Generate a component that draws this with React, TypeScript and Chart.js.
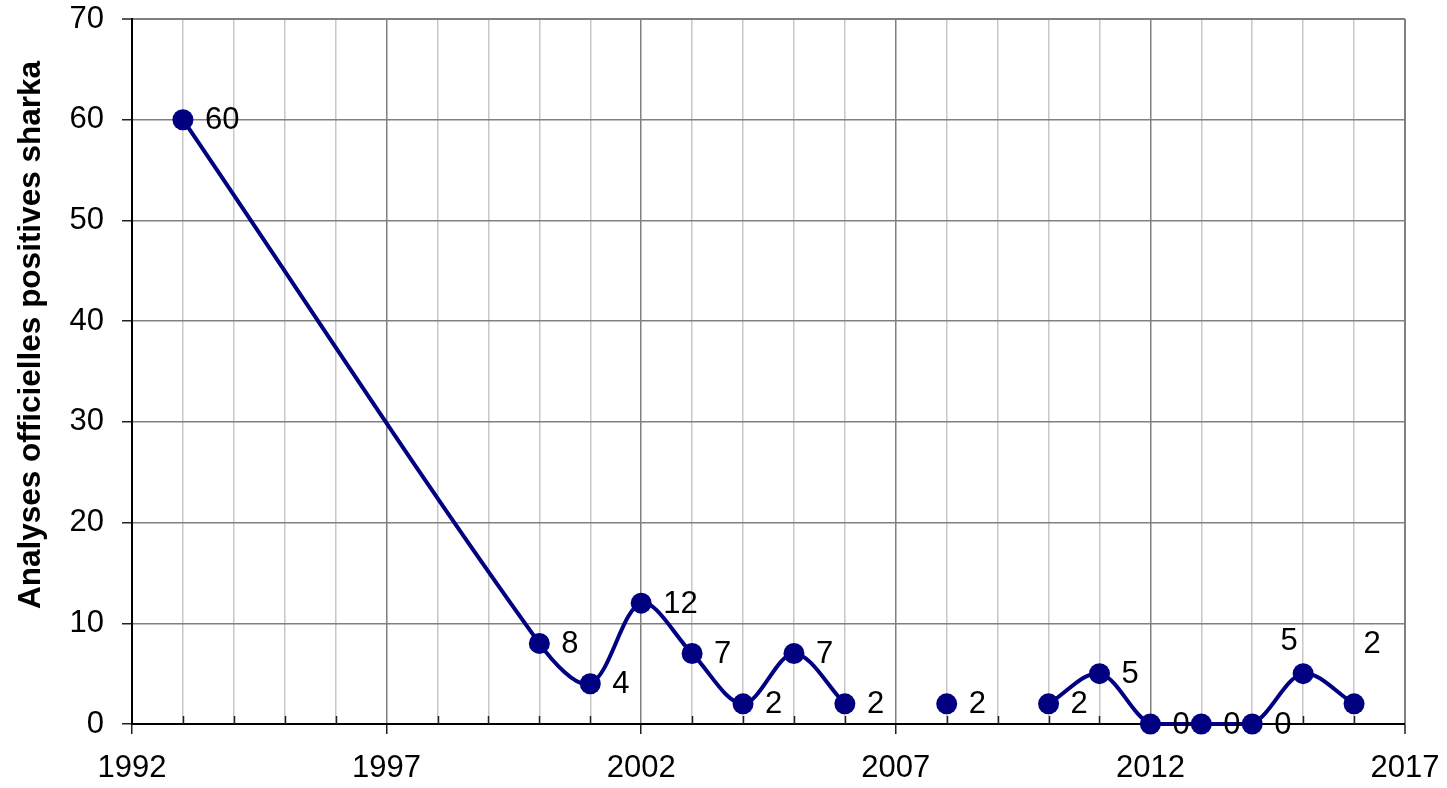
import React, { useEffect, useRef } from "react";
import { Chart, registerables } from "chart.js";

Chart.register(...registerables);

const years: number[] = [1993, 2000, 2001, 2002, 2003, 2004, 2005, 2006, 2007, 2008, 2009, 2010, 2011, 2012, 2013, 2014, 2015, 2016];
const positives: (number | null)[] = [60, 8, 4, 12, 7, 2, 7, 2, null, 2, null, 2, 5, 0, 0, 0, 5, 2];
const yTitle = "Analyses officielles positives sharka";
const xMin = 1992;
const xMax = 2017;
const yMin = 0;
const yMax = 70;

const NAVY = "#000080";
const FONT = '"Liberation Sans", Arial, sans-serif';
const FS = 31;

const isMajor = (v: number) => (v - xMin) % 5 === 0;

const labelPlugin = {
  id: "pointLabels",
  afterDatasetsDraw(chart: any) {
    const ctx = chart.ctx;
    const meta = chart.getDatasetMeta(0);
    ctx.save();
    ctx.font = `${FS}px ${FONT}`;
    ctx.fillStyle = "#000";
    meta.data.forEach((pt: any, i: number) => {
      const v = positives[i];
      if (v === null || v === undefined) return;
      const yr = years[i];
      let x = pt.x + 22;
      let y = pt.y + 1;
      let align: CanvasTextAlign = "left";
      if (yr === 2015) {
        x = pt.x - 14;
        y = pt.y - 32;
        align = "center";
      } else if (yr === 2016) {
        x = pt.x + 18;
        y = pt.y - 59;
        align = "center";
      }
      ctx.textAlign = align;
      ctx.textBaseline = "middle";
      ctx.fillText(String(v), x, y);
    });
    ctx.restore();
  },
};

const decorPlugin = {
  id: "decor",
  beforeDatasetsDraw(chart: any) {
    const ctx = chart.ctx;
    const xs = chart.scales.x;
    const area = chart.chartArea;
    ctx.save();
    ctx.strokeStyle = "#202020";
    ctx.lineWidth = 1.5;
    xs.ticks.forEach((t: any) => {
      if (isMajor(t.value)) return;
      const px = Math.round(xs.getPixelForValue(t.value)) + 0.5;
      ctx.beginPath();
      ctx.moveTo(px, area.bottom);
      ctx.lineTo(px, area.bottom - 8);
      ctx.stroke();
    });
    ctx.restore();
  },
  afterDraw(chart: any) {
    const ctx = chart.ctx;
    ctx.save();
    ctx.translate(31, 335);
    ctx.rotate(-Math.PI / 2);
    ctx.font = `bold 31.5px ${FONT}`;
    ctx.fillStyle = "#000";
    ctx.textAlign = "center";
    ctx.textBaseline = "middle";
    ctx.fillText(yTitle, 0, 0);
    ctx.restore();
  },
};

export default function App() {
  const ref = useRef<HTMLCanvasElement | null>(null);
  useEffect(() => {
    document.body.style.margin = "0";
    if (!ref.current) return;
    const data = years.map((yr, i) => ({ x: yr, y: positives[i] }));
    const chart = new Chart(ref.current, {
      type: "line",
      data: {
        datasets: [
          {
            data: data as any,
            borderColor: NAVY,
            backgroundColor: NAVY,
            borderWidth: 4,
            pointRadius: 10.5,
            pointHoverRadius: 10.5,
            pointBackgroundColor: NAVY,
            pointBorderColor: NAVY,
            pointBorderWidth: 0,
            tension: 0.33,
            spanGaps: false,
            clip: false as any,
          },
        ],
      },
      options: {
        animation: false,
        responsive: false,
        devicePixelRatio: 1,
        events: [],
        layout: { padding: { left: 0, top: 19, right: 42, bottom: 0 } },
        plugins: {
          legend: { display: false },
          tooltip: { enabled: false },
          title: { display: false },
        },
        scales: {
          x: {
            type: "linear",
            min: xMin,
            max: xMax,
            afterFit: (s: any) => {
              s.height = 64;
              s.paddingLeft = 0;
              s.paddingRight = 0;
            },
            ticks: {
              stepSize: 1,
              autoSkip: false,
              maxRotation: 0,
              padding: 16,
              color: "#000",
              font: { family: FONT, size: FS },
              callback: (v: any) => (isMajor(Number(v)) ? String(v) : ""),
            },
            grid: {
              color: (c: any) => (isMajor(c.tick.value) ? "#808080" : "#c8c8c8"),
              lineWidth: (c: any) => (c.tick.value === xMax ? 2 : 1.5),
              tickColor: (c: any) => (isMajor(c.tick.value) ? "#202020" : "rgba(0,0,0,0)"),
              tickLength: 10,
              tickWidth: 1.5,
              drawTicks: true,
            },
            border: { color: "#000", width: 2 },
          },
          y: {
            type: "linear",
            min: yMin,
            max: yMax,
            afterFit: (s: any) => {
              s.width = 132;
              s.paddingTop = 0;
              s.paddingBottom = 0;
            },
            ticks: {
              stepSize: 10,
              padding: 18,
              color: "#000",
              font: { family: FONT, size: FS },
            },
            grid: {
              color: "#808080",
              lineWidth: (c: any) => (c.tick.value === yMax ? 2 : 1.5),
              tickColor: "#202020",
              tickLength: 10,
              tickWidth: 1.5,
            },
            border: { color: "#000", width: 2 },
          },
        },
      },
      plugins: [labelPlugin, decorPlugin],
    });
    return () => chart.destroy();
  }, []);
  return (
    <div style={{ width: 1447, height: 788, background: "#fff" }}>
      <canvas ref={ref} width={1447} height={788} style={{ display: "block" }} />
    </div>
  );
}
